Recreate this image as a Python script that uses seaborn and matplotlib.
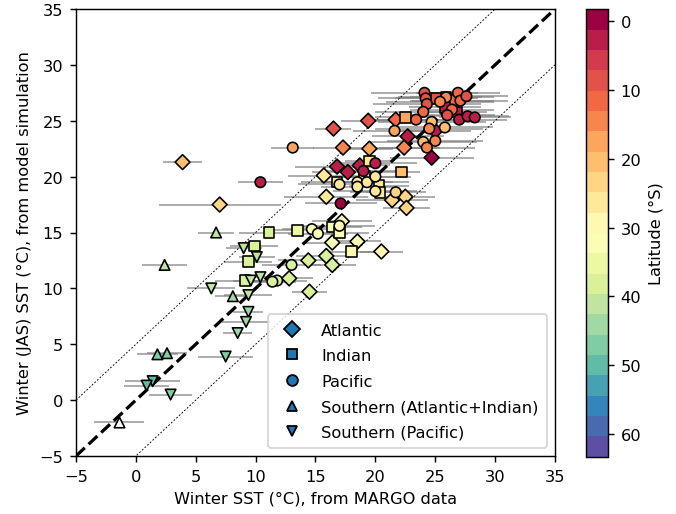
import numpy as np
import pandas as pd
import matplotlib
matplotlib.use('Agg')
import matplotlib.pyplot as plt
import seaborn as sns
from matplotlib.lines import Line2D

plt.rcParams['font.size'] = 9

# Atlantic (diamonds)
atl_x = [3.9, 7.0, 16.5, 19.4, 17.3, 19.5, 21.7, 22.7, 24.7, 25.0, 22.4, 16.8, 17.7, 18.7,
         15.7, 15.9, 21.4, 22.5, 22.6, 17.2, 16.4, 18.5, 20.5, 14.4, 15.9, 16.4, 12.8, 14.5]
atl_y = [21.3, 17.5, 24.3, 25.0, 22.6, 22.5, 25.1, 23.6, 21.7, 24.1, 22.6, 20.9, 20.4, 21.0,
         20.1, 18.2, 17.9, 18.2, 17.2, 16.0, 14.1, 14.2, 13.3, 12.5, 12.9, 12.1, 10.9, 9.7]
atl_xerr = [1.6, 5.1, 1.5, 2.3, 2.5, 2.0, 2.5, 3.0, 3.5, 3.0, 3.0, 3.5, 3.0, 2.5,
            3.0, 3.5, 3.0, 2.5, 2.0, 2.5, 2.5, 2.0, 1.8, 2.5, 2.5, 2.0, 2.0, 1.5]
atl_lat = [19, 24, 10, 10, 15, 18, 13, 2, 1, 3, 15, 2, 3, 2,
           25, 25, 22, 22, 22, 29, 33, 33, 30, 37, 37, 37, 38, 38]

# Indian (squares)
ind_x = [25.1, 25.9, 26.4, 25.8, 26.8, 22.5, 22.2, 16.8, 20.3, 20.4, 19.5, 19.1, 13.5, 16.4,
         17.0, 11.1, 9.9, 9.4, 9.1, 18.0]
ind_y = [27.0, 27.1, 26.8, 26.2, 25.8, 25.3, 20.4, 19.5, 19.2, 18.6, 21.4, 20.0, 15.2, 15.5,
         15.0, 15.0, 13.8, 12.4, 10.7, 13.3]
ind_xerr = [3.5, 3.0, 3.5, 3.0, 2.5, 2.5, 1.5, 3.0, 2.5, 2.5, 2.0, 2.5, 2.0, 2.5,
            2.5, 2.5, 2.0, 2.0, 2.5, 2.0]
ind_lat = [10, 11, 11, 3, 3, 17, 21, 25, 26, 26, 25, 26, 35, 31,
           31, 37, 38, 38, 38, 30]

# Pacific (circles)
pac_x = [10.4, 13.1, 19.0, 20.0, 17.1, 17.0, 18.5, 19.3, 18.5, 20.0, 20.0, 21.7, 17.0, 14.7,
         15.2, 13.0, 11.8, 11.4, 24.1, 24.2, 24.3, 24.0, 23.4, 26.9, 27.1, 27.6, 27.0, 27.7,
         28.3, 24.7, 25.8, 24.5, 25.0, 24.0, 21.6, 24.3, 25.9, 25.4, 26.4, 26.0]
pac_y = [19.5, 22.6, 20.5, 21.2, 17.6, 19.3, 19.5, 19.5, 19.1, 20.0, 18.7, 18.6, 15.6, 15.3,
         14.9, 12.1, 10.7, 10.6, 27.5, 27.0, 26.5, 25.8, 25.1, 27.5, 26.8, 27.2, 25.1, 25.4,
         25.3, 24.9, 24.4, 24.3, 23.2, 23.1, 24.1, 22.6, 27.1, 26.7, 26.0, 25.5]
pac_xerr = [1.9, 1.8, 3.0, 3.5, 3.0, 3.5, 3.0, 3.5, 3.0, 3.0, 3.5, 2.5, 3.0, 2.5,
            2.5, 2.5, 2.5, 2.0, 4.5, 4.0, 4.5, 4.0, 4.5, 3.5, 4.0, 3.5, 4.0, 3.5,
            3.0, 4.5, 4.0, 4.5, 4.0, 4.5, 3.5, 4.0, 4.0, 4.5, 3.5, 4.0]
pac_lat = [2, 17, 2, 3, 1, 25, 25, 26, 26, 25, 26, 22, 30, 32,
           32, 37, 38, 37, 10, 10, 10, 12, 12, 12, 12, 10, 3, 2,
           2, 21, 20, 16, 15, 20, 17, 15, 14, 14, 12, 8]

# Southern Ocean, Atlantic + Indian sectors (triangles up)
sai_x = [6.7, 2.4, 8.1, 1.8, 2.6, -1.4]
sai_y = [15.0, 12.1, 9.3, 4.1, 4.2, -2.0]
sai_xerr = [1.5, 1.9, 1.5, 1.7, 1.7, 2.1]
sai_lat = [41, 42, 43, 48, 48, np.nan]

# Southern Ocean, Pacific sector (triangles down)
sp_x = [9.0, 10.1, 9.6, 10.4, 6.3, 9.4, 9.4, 9.2, 8.5, 7.5, 1.4, 0.9, 2.9]
sp_y = [13.6, 12.8, 10.7, 11.0, 10.0, 9.4, 7.9, 7.0, 6.0, 3.9, 1.7, 1.3, 0.5]
sp_xerr = [1.5, 1.5, 1.5, 1.5, 2.0, 2.0, 1.25, 2.0, 1.2, 2.3, 2.3, 1.9, 1.8]
sp_lat = [41, 41, 41, 40, 42, 42, 43, 44, 44, 47, 50, 50, 46]

basins = [
    ('Atlantic', 'D', atl_x, atl_y, atl_xerr, atl_lat),
    ('Indian', 's', ind_x, ind_y, ind_xerr, ind_lat),
    ('Pacific', 'o', pac_x, pac_y, pac_xerr, pac_lat),
    ('Southern (Atlantic+Indian)', '^', sai_x, sai_y, sai_xerr, sai_lat),
    ('Southern (Pacific)', 'v', sp_x, sp_y, sp_xerr, sp_lat),
]

cmap = plt.get_cmap('Spectral', 22)
norm = matplotlib.colors.Normalize(vmin=-1.7, vmax=63.3)

fig = plt.figure(figsize=(5.2, 3.9615), dpi=130)
ax = fig.add_axes([0.1124, 0.1126, 0.7086, 0.868])
cax = fig.add_axes([0.867, 0.111, 0.0325, 0.869])

# reference lines
lims = np.array([-5, 35])
ax.plot(lims, lims, 'k--', lw=1.8, zorder=2)
ax.plot(lims, lims + 5, color='k', ls=(0, (2, 2)), lw=0.5, zorder=2)
ax.plot(lims, lims - 5, color='k', ls=(0, (2, 2)), lw=0.5, zorder=2)

handles = []
for name, mk, x, y, xerr, lat in basins:
    df = pd.DataFrame({'x': x, 'y': y, 'xerr': xerr, 'lat': lat})
    ax.errorbar(df['x'], df['y'], xerr=df['xerr'], fmt='none', ecolor='grey',
                elinewidth=1, alpha=0.7, zorder=1)
    ok = df['lat'].notna()
    sns.scatterplot(data=df[ok], x='x', y='y', hue='lat', palette=cmap, hue_norm=norm,
                    marker=mk, s=34, edgecolor='k', linewidth=0.9, legend=False,
                    ax=ax, zorder=3)
    if (~ok).any():
        sns.scatterplot(data=df[~ok], x='x', y='y', color='white', marker=mk, s=34,
                        edgecolor='k', linewidth=0.9, legend=False, ax=ax, zorder=3)
    handles.append(Line2D([], [], marker=mk, ls='none', color='C0', mec='k',
                          markersize=6, label=name))

ax.set_xlim(-5, 35)
ax.set_ylim(-5, 35)
ax.set_xticks(np.arange(-5, 36, 5))
ax.set_yticks(np.arange(-5, 36, 5))
ax.set_xlabel('Winter SST (°C), from MARGO data')
ax.set_ylabel('Winter (JAS) SST (°C), from model simulation')
ax.legend(handles=handles, loc='lower right', labelspacing=0.65, borderpad=0.5)

sm = matplotlib.cm.ScalarMappable(norm=norm, cmap=cmap)
cb = fig.colorbar(sm, cax=cax)
cb.set_ticks([0, 10, 20, 30, 40, 50, 60])
cax.invert_yaxis()
cb.set_label('Latitude (°S)')

fig.savefig('out.png', dpi=130)
